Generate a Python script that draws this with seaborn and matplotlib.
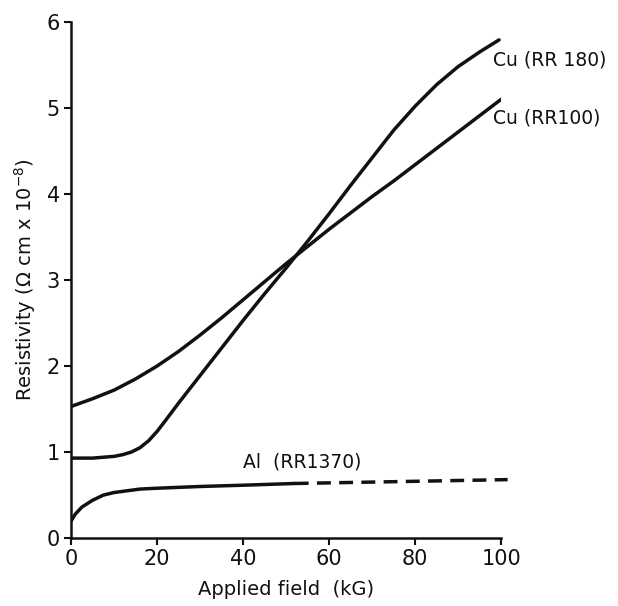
import matplotlib
matplotlib.use("Agg")
import matplotlib.pyplot as plt
import seaborn as sns

# Cu (RR 100)
field_rr100 = [0, 5, 10, 15, 20, 25, 30, 35, 40, 45, 50, 55, 60, 65, 70, 75, 80, 85, 90, 95, 100]
rho_rr100 = [1.53, 1.62, 1.72, 1.85, 2.00, 2.17, 2.36, 2.56, 2.77, 2.98, 3.19, 3.39, 3.59, 3.78, 3.97, 4.15, 4.34, 4.53, 4.72, 4.91, 5.10]

# Cu (RR 180)
field_rr180 = [0, 5, 10, 12, 14, 16, 18, 20, 22, 25, 30, 35, 40, 45, 50, 55, 60, 65, 70, 75, 80, 85, 90, 95, 99.5]
rho_rr180 = [0.93, 0.93, 0.95, 0.97, 1.00, 1.05, 1.13, 1.24, 1.37, 1.57, 1.89, 2.21, 2.53, 2.84, 3.14, 3.45, 3.77, 4.10, 4.42, 4.74, 5.02, 5.27, 5.48, 5.65, 5.79]

# Al (RR 1370), measured part
field_al = [0, 1, 2.5, 5, 7.5, 10, 13, 16, 20, 30, 40, 52]
rho_al = [0.20, 0.28, 0.36, 0.44, 0.50, 0.53, 0.55, 0.57, 0.58, 0.60, 0.615, 0.635]

# Al (RR 1370), extrapolated part
field_al_ext = [52, 101.5]
rho_al_ext = [0.635, 0.68]

x_ticks = [0, 20, 40, 60, 80, 100]
y_ticks = [0, 1, 2, 3, 4, 5, 6]

sns.set_theme(style="white")
plt.rcParams["font.family"] = ["DejaVu Sans"]

fig = plt.figure(figsize=(6.18, 6.06), dpi=100)
ax = fig.add_axes([0.115, 0.112, 0.696, 0.852])

lw = 2.5
col = "#111111"
sns.lineplot(x=field_rr100, y=rho_rr100, ax=ax, color=col, lw=lw, sort=False)
sns.lineplot(x=field_rr180, y=rho_rr180, ax=ax, color=col, lw=lw, sort=False)
sns.lineplot(x=field_al, y=rho_al, ax=ax, color=col, lw=lw, sort=False)
sns.lineplot(x=field_al_ext, y=rho_al_ext, ax=ax, color=col, lw=lw, sort=False,
             linestyle=(0, (4.0, 2.4)), clip_on=False)

ax.set_xlim(0, 100)
ax.set_ylim(0, 6)
ax.set_xticks(x_ticks)
ax.set_yticks(y_ticks)
ax.set_xticklabels([str(v) for v in x_ticks])
ax.set_yticklabels([str(v) for v in y_ticks])

for side in ("top", "right"):
    ax.spines[side].set_visible(False)
for side in ("left", "bottom"):
    ax.spines[side].set_color(col)
    ax.spines[side].set_linewidth(1.8)

ax.tick_params(axis="both", direction="out", length=5, width=1.5, color=col,
               labelsize=15, labelcolor=col, pad=3)
ax.tick_params(axis="both", which="both", bottom=True, left=True)
for lab in ax.get_xticklabels() + ax.get_yticklabels():
    lab.set_fontweight("medium")

ax.set_xlabel("Applied field  (kG)", fontsize=14, color=col, labelpad=8, fontweight="medium")
ax.set_ylabel(r"Resistivity ($\Omega$ cm x 10$^{-8}$)", fontsize=14, color=col, labelpad=6,
              fontweight="medium")

ax.text(98, 5.56, "Cu (RR 180)", fontsize=13.5, color=col, ha="left", va="center", clip_on=False)
ax.text(98, 4.88, "Cu (RR100)", fontsize=13.5, color=col, ha="left", va="center", clip_on=False)
ax.text(40, 0.89, "Al  (RR1370)", fontsize=13.5, color=col, ha="left", va="center")

fig.savefig("out.png", dpi=100, facecolor="white")
